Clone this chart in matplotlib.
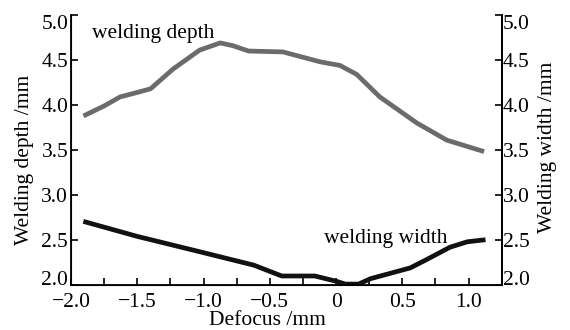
import matplotlib
matplotlib.use("Agg")
import matplotlib.pyplot as plt
from matplotlib.ticker import MultipleLocator

plt.rcParams['font.family'] = ['Liberation Serif', 'DejaVu Serif']

depth_x = [-1.89, -1.75, -1.63, -1.50, -1.40, -1.23, -1.03, -0.875, -0.78, -0.66, -0.40, -0.12, 0.03, 0.156, 0.33, 0.61, 0.835, 1.10]
depth_y = [3.89, 3.99, 4.09, 4.14, 4.18, 4.40, 4.61, 4.69, 4.66, 4.60, 4.59, 4.48, 4.44, 4.34, 4.09, 3.80, 3.61, 3.49]

width_x = [-1.89, -1.50, -1.03, -0.62, -0.41, -0.16, 0.005, 0.07, 0.17, 0.26, 0.56, 0.68, 0.86, 0.99, 1.11]
width_y = [2.70, 2.54, 2.37, 2.22, 2.10, 2.10, 2.04, 2.01, 2.01, 2.07, 2.19, 2.28, 2.42, 2.48, 2.50]

x_ticks = [-2.0, -1.5, -1.0, -0.5, 0, 0.5, 1.0]
x_tick_labels = ['\u22122.0', '\u22121.5', '\u22121.0', '\u22120.5', '0', '0.5', '1.0']
y_ticks = [2.0, 2.5, 3.0, 3.5, 4.0, 4.5, 5.0]
y_tick_labels = ['2.0', '2.5', '3.0', '3.5', '4.0', '4.5', '5.0']

FS = 15.5

fig = plt.figure(figsize=(5.7, 3.3), dpi=100)
ax = fig.add_axes([0.1246, 0.1364, 0.7556, 0.818])
ax.plot(depth_x, depth_y, color='#6b6b6b', lw=3.4, solid_joinstyle='round')
ax.plot(width_x, width_y, color='#111111', lw=3.4, solid_joinstyle='round')
ax.set_xlim(-2.0, 1.25)
ax.set_ylim(2.0, 5.0)
ax.xaxis.set_minor_locator(MultipleLocator(0.25))
ax.set_xticks(x_ticks)
ax.set_xticklabels(x_tick_labels)
ax.set_yticks(y_ticks)
ax.set_yticklabels(y_tick_labels)
ax.spines['top'].set_visible(False)
for s in ['left', 'bottom', 'right']:
    ax.spines[s].set_linewidth(1.3)
ax.tick_params(which='both', direction='in', length=5, width=1.2, labelsize=FS)
ax.tick_params(axis='x', pad=6)
ax.tick_params(axis='y', pad=2)
ax.set_xlabel('Defocus /mm', fontsize=FS)
ax.xaxis.set_label_coords(0.455, -0.097)
ax.set_ylabel('Welding depth /mm', fontsize=FS)
ax.yaxis.set_label_coords(-0.086, 0.463)

ax2 = ax.twinx()
ax2.set_ylim(2.0, 5.0)
ax2.set_yticks(y_ticks)
ax2.set_yticklabels(y_tick_labels)
ax2.spines['top'].set_visible(False)
ax2.spines['right'].set_linewidth(1.3)
ax2.tick_params(direction='in', length=5, width=1.2, labelsize=FS, pad=1)
ax2.set_ylabel('Welding width /mm', fontsize=FS)
ax2.yaxis.set_label_coords(1.085, 0.511)

lt = ax.yaxis.get_major_ticks()
lt[0].label1.set_va('baseline')
lt[-1].label1.set_va('top')
rt = ax2.yaxis.get_major_ticks()
rt[0].label2.set_va('baseline')
rt[-1].label2.set_va('top')

ax.text(-1.84, 4.80, 'welding depth', fontsize=FS, va='center', ha='left')
ax.text(-0.09, 2.52, 'welding width', fontsize=FS, va='center', ha='left')

fig.savefig('out.png', dpi=100)
